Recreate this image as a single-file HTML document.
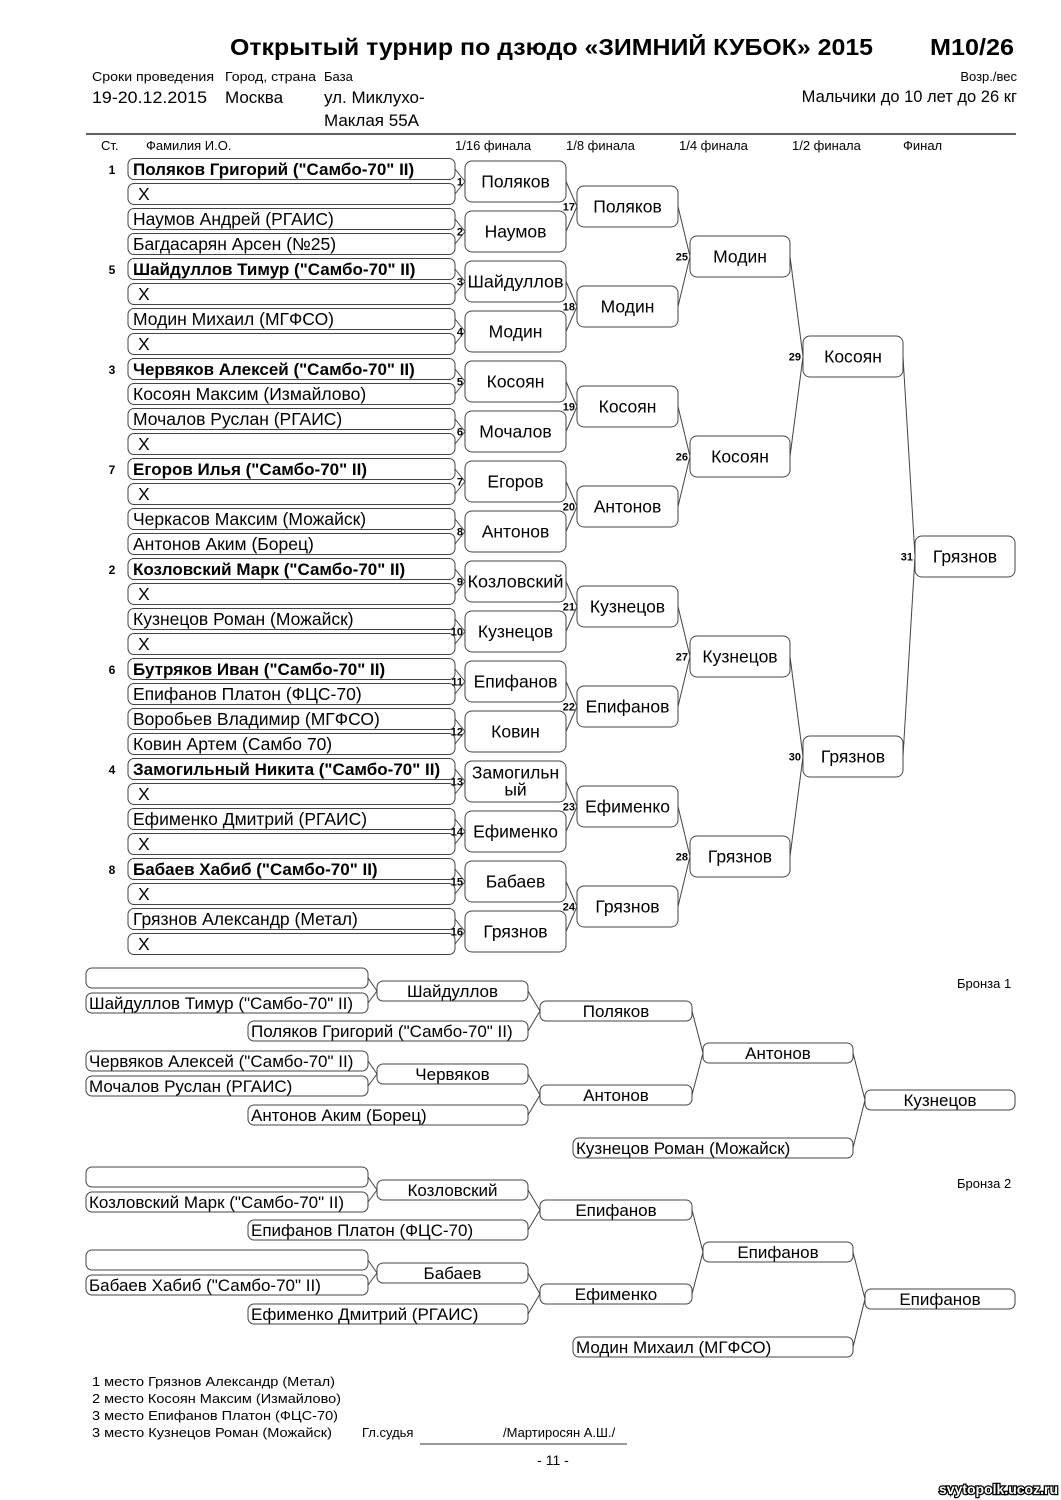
<!DOCTYPE html>
<html><head><meta charset="utf-8">
<style>
html,body{margin:0;padding:0;background:#fff;}
svg{display:block;font-family:"Liberation Sans","DejaVu Sans",sans-serif;}
</style></head>
<body>
<svg id="s" width="1061" height="1500" viewBox="0 0 1061 1500" xmlns="http://www.w3.org/2000/svg">
<text x="230" y="55" font-size="23" font-weight="bold" textLength="643" lengthAdjust="spacingAndGlyphs">Открытый турнир по дзюдо «ЗИМНИЙ КУБОК» 2015</text>
<text x="930" y="55" font-size="23" font-weight="bold" textLength="84" lengthAdjust="spacingAndGlyphs">М10/26</text>
<text x="92" y="81" font-size="13" textLength="122" lengthAdjust="spacingAndGlyphs">Сроки проведения</text>
<text x="225" y="81" font-size="13" textLength="91" lengthAdjust="spacingAndGlyphs">Город, страна</text>
<text x="324" y="81" font-size="13">База</text>
<text x="92" y="103" font-size="17" textLength="115" lengthAdjust="spacingAndGlyphs">19-20.12.2015</text>
<text x="225" y="103" font-size="17">Москва</text>
<text x="324" y="103" font-size="17">ул. Миклухо-</text>
<text x="324" y="126" font-size="17">Маклая 55А</text>
<text x="1017" y="81" font-size="13" text-anchor="end">Возр./вес</text>
<text x="1017" y="102" font-size="16.5" text-anchor="end">Мальчики до 10 лет до 26 кг</text>
<line x1="86" y1="134" x2="1016" y2="134" stroke="#000" stroke-width="1.2"/>
<g font-size="13">
<text x="101" y="150">Ст.</text>
<text x="146" y="150">Фамилия И.О.</text>
<text x="455" y="150">1/16 финала</text>
<text x="566" y="150">1/8 финала</text>
<text x="679" y="150">1/4 финала</text>
<text x="792" y="150">1/2 финала</text>
<text x="903" y="150">Финал</text>
</g>
<g id="g" fill="none" stroke="#444" stroke-width="1"></g>
<g id="t" fill="#000" font-size="17.5"></g>
<g font-size="13">
<text x="957" y="988">Бронза 1</text>
<text x="957" y="1188">Бронза 2</text>
<text x="92" y="1386" textLength="243" lengthAdjust="spacingAndGlyphs">1 место  Грязнов Александр (Метал)</text>
<text x="92" y="1403" textLength="249" lengthAdjust="spacingAndGlyphs">2 место  Косоян Максим (Измайлово)</text>
<text x="92" y="1420" textLength="246" lengthAdjust="spacingAndGlyphs">3 место  Епифанов Платон (ФЦС-70)</text>
<text x="92" y="1437" textLength="240" lengthAdjust="spacingAndGlyphs">3 место  Кузнецов Роман (Можайск)</text>
<text x="362" y="1437">Гл.судья</text>
<text x="503" y="1437">/Мартиросян А.Ш./</text>
<text x="553" y="1465" font-size="14" text-anchor="middle">- 11 -</text>
<text x="1058" y="1494" font-size="14" font-weight="bold" text-anchor="end" fill="#fff" stroke="#000" stroke-width="2.5" paint-order="stroke">svytopolk.ucoz.ru</text>
</g>
<line x1="420" y1="1444" x2="627" y2="1444" stroke="#333"/>
</svg>
<script>
var NS="http://www.w3.org/2000/svg",G=document.getElementById('g'),T=document.getElementById('t');
function el(p,n,a,txt){var e=document.createElementNS(NS,n);for(var k in a)e.setAttribute(k,a[k]);if(txt!=null)e.textContent=txt;p.appendChild(e);return e;}
function box(x1,x2,cy,h,r){el(G,'rect',{x:x1,y:cy-h/2,width:x2-x1,height:h,rx:r,ry:r});}
function ln(a,b,c,d){el(G,'line',{x1:a,y1:b,x2:c,y2:d});}
function tx(x,y,s,o){var a={x:x,y:y};if(o)for(var k in o)a[k]=o[k];el(T,'text',a,s);}
var names=['Поляков Григорий ("Самбо-70" II)','X','Наумов Андрей (РГАИС)','Багдасарян Арсен (№25)','Шайдуллов Тимур ("Самбо-70" II)','X','Модин Михаил (МГФСО)','X','Червяков Алексей ("Самбо-70" II)','Косоян Максим (Измайлово)','Мочалов Руслан (РГАИС)','X','Егоров Илья ("Самбо-70" II)','X','Черкасов Максим (Можайск)','Антонов Аким (Борец)','Козловский Марк ("Самбо-70" II)','X','Кузнецов Роман (Можайск)','X','Бутряков Иван ("Самбо-70" II)','Епифанов Платон (ФЦС-70)','Воробьев Владимир (МГФСО)','Ковин Артем (Самбо 70)','Замогильный Никита ("Самбо-70" II)','X','Ефименко Дмитрий (РГАИС)','X','Бабаев Хабиб ("Самбо-70" II)','X','Грязнов Александр (Метал)','X'];
var seeds=['1','5','3','7','2','6','4','8'];
for(var i=0;i<32;i++){var cy=169+25*i;box(128,455,cy,21,6);var b=(i%4==0);
 tx(133+(names[i]=='X'?5:0),cy+6,names[i],b?{'font-weight':'bold','font-size':'17'}:null);
 if(b)tx(112,cy+5,seeds[i/4],{'font-size':'12','font-weight':'bold','text-anchor':'middle'});}
var rounds=[
 ['Поляков','Наумов','Шайдуллов','Модин','Косоян','Мочалов','Егоров','Антонов','Козловский','Кузнецов','Епифанов','Ковин','Замогильн|ый','Ефименко','Бабаев','Грязнов'],
 ['Поляков','Модин','Косоян','Антонов','Кузнецов','Епифанов','Ефименко','Грязнов'],
 ['Модин','Косоян','Кузнецов','Грязнов'],['Косоян','Грязнов'],['Грязнов']];
var X1=[465,577,690,803,915],X2=[566,678,790,903,1015];
var num=1,prevC=[],prevX=455;for(i=0;i<32;i++)prevC.push(169+25*i);
for(var r=0;r<5;r++){var step=25*Math.pow(2,r+1),C=[];
 for(var k=0;k<rounds[r].length;k++){var cy=169+step*k+step/2-12.5;C.push(cy);
  box(X1[r],X2[r],cy,41,7);
  ln(prevX,prevC[2*k],X1[r],cy);ln(prevX,prevC[2*k+1],X1[r],cy);
  tx(X1[r]-2,cy+4,String(num++),{'font-size':'11','font-weight':'bold','text-anchor':'end'});
  var s=rounds[r][k];
  if(s.indexOf('|')>=0){var p=s.split('|');tx((X1[r]+X2[r])/2,cy-3,p[0],{'text-anchor':'middle'});tx((X1[r]+X2[r])/2,cy+14,p[1],{'text-anchor':'middle'});}
  else tx((X1[r]+X2[r])/2,cy+6,s,{'text-anchor':'middle','textLength':(s=='Козловский'||s=='Шайдуллов')?'96':null}.textLength?{'text-anchor':'middle','textLength':'96','lengthAdjust':'spacingAndGlyphs'}:{'text-anchor':'middle'});}
 prevC=C;prevX=X2[r];}
function bronze(o,d){
 function nb(x1,x2,cy,s){box(x1,x2,cy+o,20,6);if(s)tx(x1+3,cy+o+6,s,{'font-size':'17'});}
 function wb(x1,x2,cy,s){box(x1,x2,cy+o,20,6);tx((x1+x2)/2,cy+o+6,s,{'text-anchor':'middle','font-size':'17'});}
 function c(x1,y1,x2,y2){ln(x1,y1+o,x2,y2+o);}
 nb(86,368,978,d[0]);nb(86,368,1003,d[1]);wb(377,528,991,d[2]);c(368,978,377,991);c(368,1003,377,991);
 nb(248,528,1031,d[3]);wb(540,692,1011,d[4]);c(528,991,540,1011);c(528,1031,540,1011);
 nb(86,368,1061,d[5]);nb(86,368,1086,d[6]);wb(377,528,1074,d[7]);c(368,1061,377,1074);c(368,1086,377,1074);
 nb(248,528,1115,d[8]);wb(540,692,1095,d[9]);c(528,1074,540,1095);c(528,1115,540,1095);
 wb(703,853,1053,d[10]);c(692,1011,703,1053);c(692,1095,703,1053);
 nb(573,853,1148,d[11]);wb(865,1015,1100,d[12]);c(853,1053,865,1100);c(853,1148,865,1100);}
bronze(0,['','Шайдуллов Тимур ("Самбо-70" II)','Шайдуллов','Поляков Григорий ("Самбо-70" II)','Поляков','Червяков Алексей ("Самбо-70" II)','Мочалов Руслан (РГАИС)','Червяков','Антонов Аким (Борец)','Антонов','Антонов','Кузнецов Роман (Можайск)','Кузнецов']);
bronze(199,['','Козловский Марк ("Самбо-70" II)','Козловский','Епифанов Платон (ФЦС-70)','Епифанов','','Бабаев Хабиб ("Самбо-70" II)','Бабаев','Ефименко Дмитрий (РГАИС)','Ефименко','Епифанов','Модин Михаил (МГФСО)','Епифанов']);
</script>
</body></html>
